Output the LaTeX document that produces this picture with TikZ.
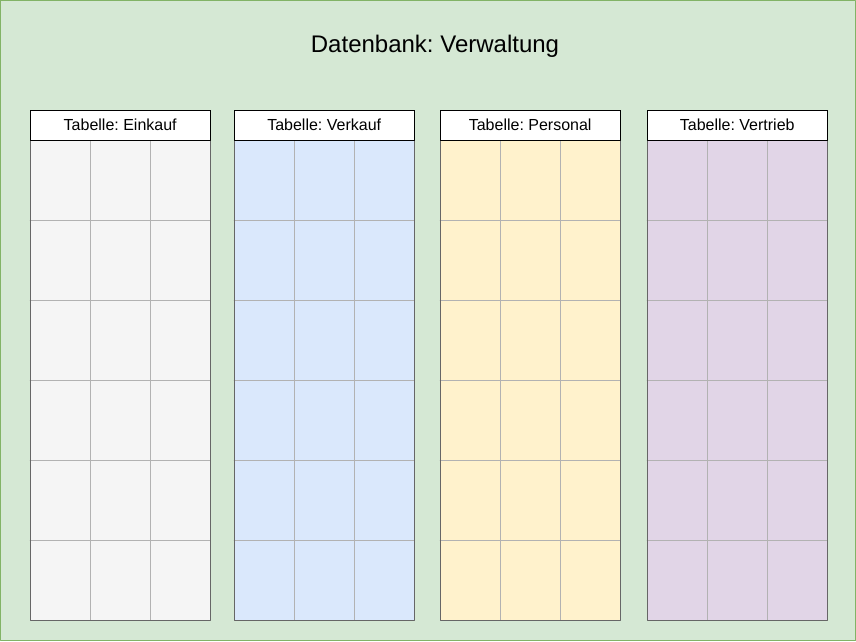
\documentclass[tikz,border=0pt]{standalone}
\usepackage{fontspec}
\setmainfont{Liberation Sans}
\usepackage{tikz}
\usetikzlibrary{positioning}
\frenchspacing
\definecolor{bggreen}{HTML}{D5E8D4}
\definecolor{bdgreen}{HTML}{82B366}
\definecolor{fgray}{HTML}{F5F5F5}
\definecolor{fblue}{HTML}{DAE8FC}
\definecolor{fyellow}{HTML}{FFF2CC}
\definecolor{fpurple}{HTML}{E1D5E7}
\tikzset{
  kopf/.style={draw=black,fill=white,minimum width=180pt,minimum height=30pt,inner sep=0pt,text height=11pt,text depth=3pt,anchor=north west,font=\fontsize{16pt}{18pt}\selectfont},
  zelle/.style={draw=black!30,line width=0.6pt},
  rahmen/.style={draw=black!60,line width=0.8pt}
}
\begin{document}
\begin{tikzpicture}[line cap=round,line join=round,x=1pt,y=-1pt]
				\useasboundingbox (0,0) rectangle (856,641);
				\draw[fill=bggreen,draw=bdgreen,line width=1pt] (0.5,0.5) rectangle (855.5,640.5);
				\node (titel) at (435,46.5) {\fontsize{24pt}{27pt}\selectfont Datenbank: Verwaltung};
				\foreach \x/\farbe/\name/\text in {30/fgray/einkauf/Einkauf,234/fblue/verkauf/Verkauf,440/fyellow/personal/Personal,647/fpurple/vertrieb/Vertrieb}
				{
				\node[kopf] (\name) at (\x,110) {\raisebox{-1.5pt}{Tabelle: \text}};
				\fill[\farbe] (\name.south west) rectangle ++(180,480);
				\foreach \i in {1,2}
				\draw[zelle] ([xshift=\i*60]\name.south west) -- ++(0,480);
				\foreach \j in {1,...,5}
				\draw[zelle] ([yshift=-\j*80]\name.south west) -- ++(180,0);
				\draw[rahmen] (\name.south west) rectangle ++(180,480);
				\draw[black,line width=0.8pt] (\name.south west) rectangle (\name.north east);
				}
\end{tikzpicture}
\end{document}
